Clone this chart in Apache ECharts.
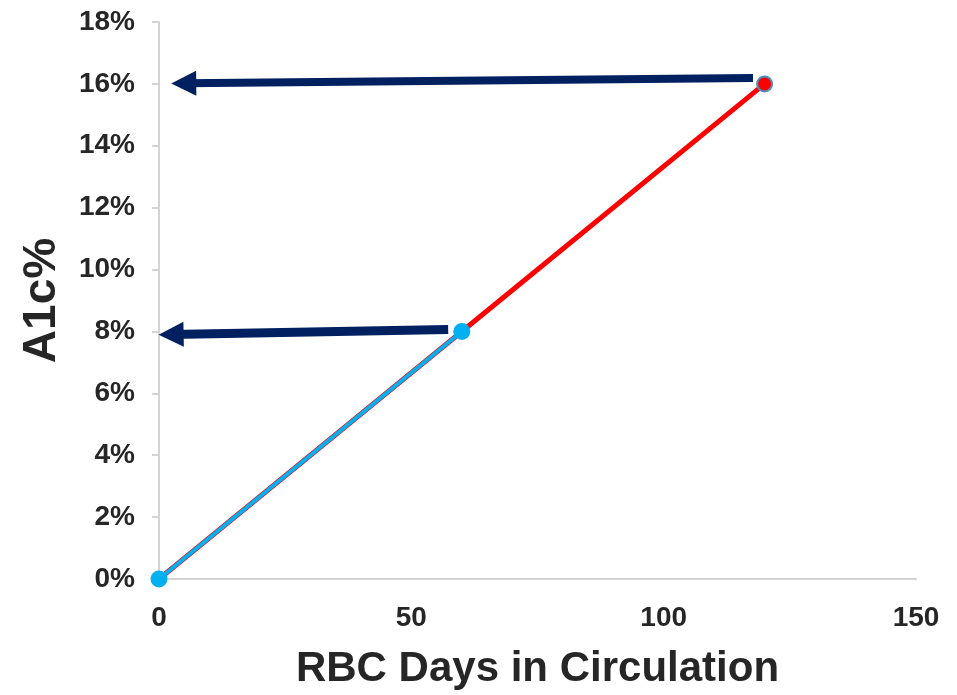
<!DOCTYPE html>
<html>
<head>
<meta charset="utf-8">
<script src="https://cdn.jsdelivr.net/npm/echarts@6/dist/echarts.min.js"></script>
<style>
  html, body { margin: 0; padding: 0; background: #fff; }
  #chart { width: 957px; height: 695px; }
</style>
</head>
<body>
<div id="chart"></div>
<script>
// RBC age (days) vs. A1c (%)
const fullDays = [0, 60, 120];
const fullA1c = [0, 8, 16];
const halfDays = [0, 60];
const halfA1c = [0, 8];

// arrows pointing from the curve back to the A1c axis: [startX, startY, endX, endY]
const arrowHigh = [117.7, 16.19, 4.9, 16.02];
const arrowLow = [57.3, 8.06, 2.4, 7.90];

const xTicks = { min: 0, max: 150, interval: 50 };
const yTicks = { min: 0, max: 18, interval: 2 };

const font = '"Liberation Sans", Arial, sans-serif';
const axisColor = '#d4d4d4';
const textColor = '#262626';

const toPairs = (xs, ys) => xs.map((x, i) => [x, ys[i]]);
const arrowLine = (a, w) => [
  { coord: [a[0], a[1]], lineStyle: { width: w } },
  { coord: [a[2], a[3]] }
];

const chart = echarts.init(document.getElementById('chart'));
chart.setOption({
  animation: false,
  backgroundColor: '#ffffff',
  grid: { left: 159, right: 41, top: 22, bottom: 111, containLabel: false },
  xAxis: {
    type: 'value',
    min: xTicks.min, max: xTicks.max, interval: xTicks.interval,
    name: 'RBC Days in Circulation',
    nameLocation: 'middle',
    nameGap: 69,
    nameTextStyle: { fontFamily: font, fontWeight: 'bold', fontSize: 42, color: textColor },
    axisLine: { show: true, lineStyle: { color: axisColor, width: 2 } },
    axisTick: { show: false },
    splitLine: { show: false },
    axisLabel: { margin: 25, fontFamily: font, fontWeight: 'bold', fontSize: 28, color: textColor }
  },
  yAxis: {
    type: 'value',
    min: yTicks.min, max: yTicks.max, interval: yTicks.interval,
    name: 'A1c%',
    nameLocation: 'middle',
    nameRotate: 90,
    nameGap: 94,
    nameTextStyle: { fontFamily: font, fontWeight: 'bold', fontSize: 46, color: textColor },
    axisLine: { show: true, lineStyle: { color: axisColor, width: 2 } },
    axisTick: { show: true, inside: false, length: 7, lineStyle: { color: axisColor, width: 2 } },
    splitLine: { show: false },
    axisLabel: {
      margin: 24, fontFamily: font, fontWeight: 'bold', fontSize: 28, color: textColor,
      formatter: v => v + '%'
    }
  },
  series: [
    {
      name: 'full',
      type: 'line',
      data: toPairs(fullDays, fullA1c),
      lineStyle: { color: '#ff0000', width: 5 },
      itemStyle: { color: '#ff0000', borderColor: '#4a90c2', borderWidth: 2 },
      symbol: 'circle',
      symbolSize: (v, p) => (p.dataIndex === fullDays.length - 1 ? 15 : 0),
      z: 2
    },
    {
      name: 'half',
      type: 'line',
      data: toPairs(halfDays, halfA1c),
      lineStyle: { color: '#00b0f0', width: 4 },
      itemStyle: { color: '#00b0f0', borderWidth: 0 },
      symbol: 'circle',
      symbolSize: 17,
      z: 3,
      markLine: {
        silent: true,
        symbol: ['none', 'triangle'],
        symbolSize: [25, 25],
        label: { show: false },
        lineStyle: { color: '#002060', width: 8, type: 'solid' },
        emphasis: { disabled: true },
        data: [arrowLine(arrowHigh, 8), arrowLine(arrowLow, 9)]
      }
    }
  ]
});
</script>
</body>
</html>
